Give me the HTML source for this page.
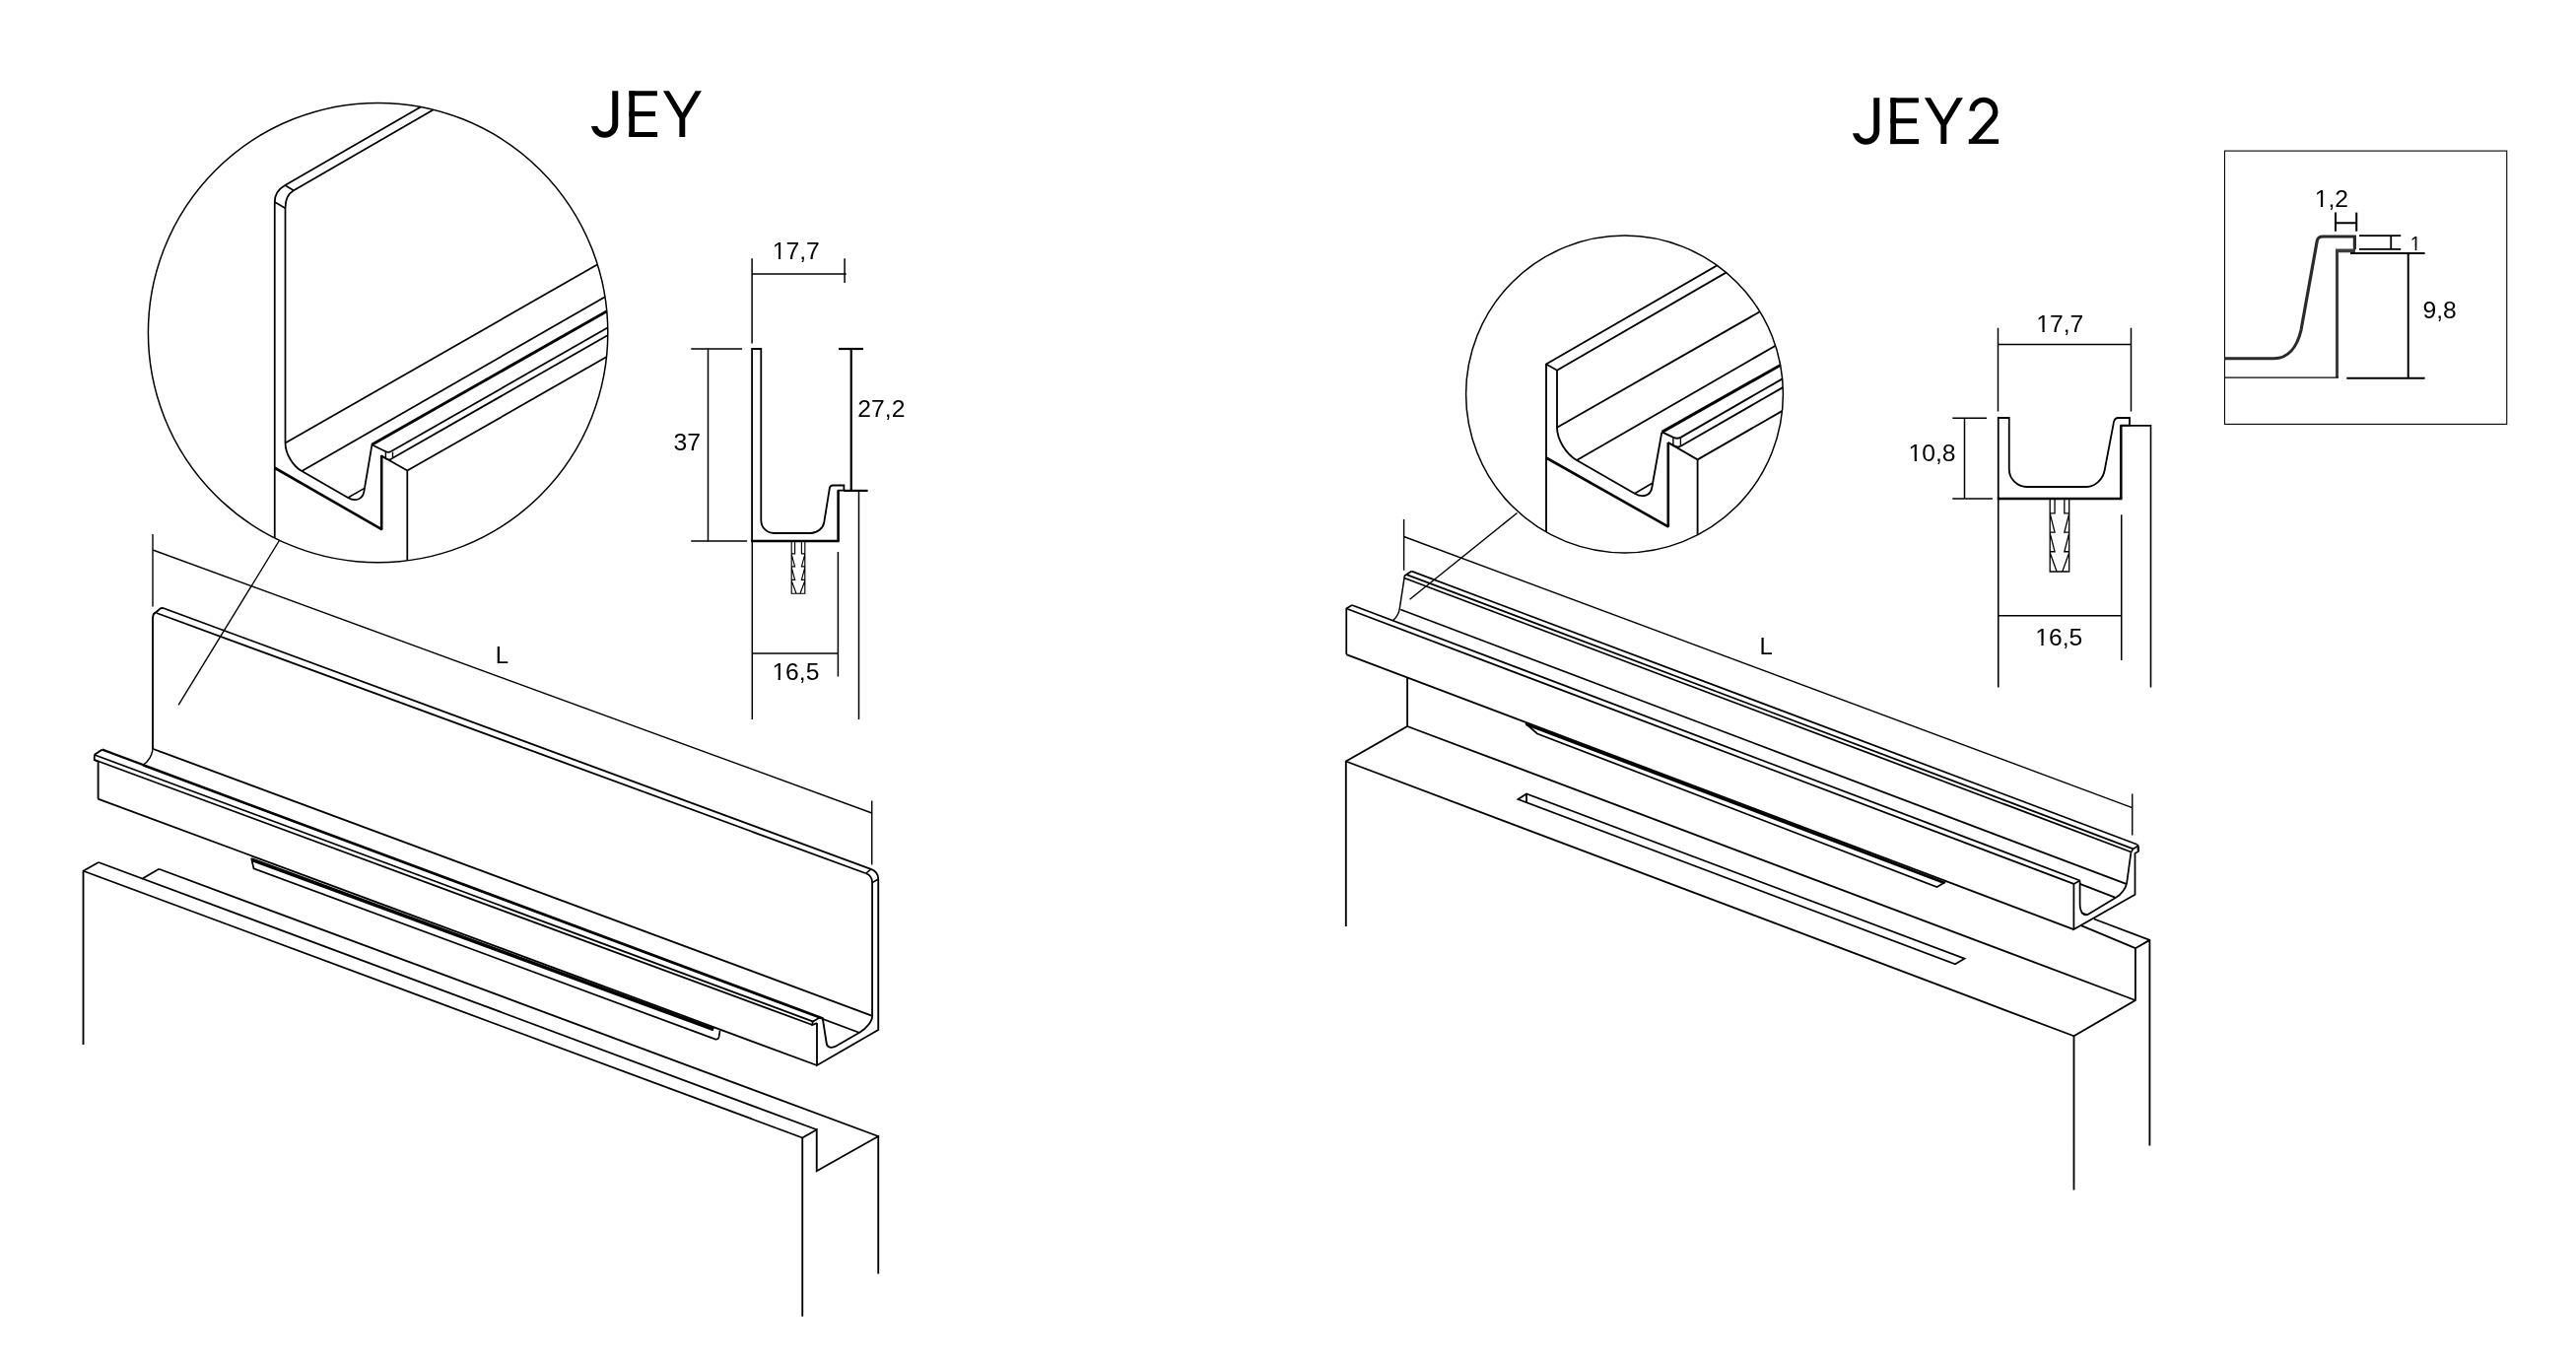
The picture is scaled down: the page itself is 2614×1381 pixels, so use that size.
<!DOCTYPE html>
<html><head><meta charset="utf-8"><title>JEY / JEY2</title>
<style>
html,body{margin:0;padding:0;background:#fff;}
body{width:2614px;height:1381px;overflow:hidden;}
svg{display:block;}
svg line, svg path, svg circle, svg polyline, svg rect{fill:none;stroke:#000;stroke-linecap:butt;stroke-linejoin:miter;}
svg text{font-family:"Liberation Sans",sans-serif;fill:#000;stroke:none;opacity:0.995;}
svg .f{fill:#000;stroke:none;}
svg .w{fill:#fff;stroke:none;}
</style></head><body>
<svg width="2614" height="1381" viewBox="0 0 2614 1381">
<defs>
<clipPath id="c1"><circle cx="383.6" cy="337.6" r="233.2"/></clipPath>
<clipPath id="c2"><circle cx="1648.5" cy="400" r="160.9"/></clipPath>
<filter id="bl" x="-5%" y="-5%" width="110%" height="110%"><feGaussianBlur stdDeviation="0.55"/></filter>
<clipPath id="cj"><rect x="590" y="128.1" width="24" height="20"/><rect x="611" y="85" width="22" height="63"/></clipPath>
</defs>
<g id="title1">
<path d="M624.25 92.25 V126 A10.65 10.65 0 0 1 602.95 126 V122" stroke-width="6" clip-path="url(#cj)"/>
<line x1="641.2" y1="92.25" x2="641.2" y2="139" stroke-width="5.6" />
<line x1="638.4" y1="94.75" x2="666.9" y2="94.75" stroke-width="5" />
<line x1="638.4" y1="115.6" x2="665" y2="115.6" stroke-width="5" />
<line x1="638.4" y1="136.5" x2="667.1" y2="136.5" stroke-width="5" />
<polygon class="f" points="672.9,92.25 679,92.25 692.5,114.4 705.6,92.25 711.9,92.25 695.25,120 695.25,139 689.4,139 689.4,120"/>
</g>
<circle cx="383.6" cy="337.6" r="233.2" stroke-width="1.5"/>
<g clip-path="url(#c1)">
<path d="M460,89.4 L289.25,188 Q278.75,194.06 278.75,205 V600" stroke-width="1.75" />
<path d="M480,88.1 L298,193.25 Q289.5,198.16 289.5,211.25 V449.4 C289.50,459.95 297.00,472.80 306.25,478.10 L353.1,505 C360.78,509.42 368.07,506.62 369.40,498.75 L377.5,451" stroke-width="1.75" />
<line x1="289.25" y1="188" x2="298" y2="193.25" stroke-width="1.5" />
<line x1="278.75" y1="205" x2="289.5" y2="211.25" stroke-width="1.5" />
<path d="M377.3,451.2 L391.0,458.0 Q394,459.8 396.9,458.0" stroke-width="1.75" />
<line x1="391.4" y1="458.4" x2="391.4" y2="464.8" stroke-width="1.4" />
<line x1="398.5" y1="458.7" x2="398.5" y2="464.6" stroke-width="1.4" />
<path d="M386.6,462.2 L392.3,465.7 Q395.5,467.4 398.5,464.8" stroke-width="1.75" />
<line x1="387.2" y1="462.0" x2="387.2" y2="537.6" stroke-width="2.6" />
<line x1="278.75" y1="474.75" x2="387.8" y2="537.4" stroke-width="2.6" />
<line x1="387" y1="462.4" x2="413.3" y2="477.6" stroke-width="1.75" />
<line x1="413.3" y1="477.6" x2="413.3" y2="600" stroke-width="1.75" />
<line x1="289.5" y1="449.4" x2="640" y2="249.21" stroke-width="1.75" />
<line x1="306.25" y1="478.1" x2="640" y2="286.23" stroke-width="1.75" />
<line x1="377.3" y1="451.2" x2="640" y2="302.06" stroke-width="3.0" />
<line x1="396.9" y1="458.0" x2="640" y2="319.15" stroke-width="1.75" />
<line x1="398.5" y1="464.8" x2="640" y2="326.9" stroke-width="1.75" />
<line x1="413.3" y1="477.6" x2="640" y2="348.23" stroke-width="1.75" />
<line x1="353.1" y1="505" x2="369.4" y2="495.6" stroke-width="1.5" />
</g>
<line x1="283.25" y1="548.75" x2="181.1" y2="715.4" stroke-width="1.4" />
<path d="M763.1,549 V354 H772.3 V528 A13,13 0 0 0 785.3,541 H822.5 C829.13,541.00 835.28,536.08 836.25,530.00 L841.9,495 Q842.6,492.5 845,492.5 H856.4 V497.6 H850.6 V549" stroke-width="1.8" />
<line x1="762.2" y1="549" x2="851.7" y2="549" stroke-width="2.4" />
<line x1="850.6" y1="497.6" x2="850.6" y2="549" stroke-width="2.3" />
<text x="783.80" y="262.75" font-size="24.7">17,7</text>
<rect class="w" x="784.81" y="260.27" width="5.19" height="3.41"/>
<rect class="w" x="792.20" y="260.27" width="5.00" height="3.41"/>
<line x1="763.1" y1="277.9" x2="858.75" y2="277.9" stroke-width="1.5" />
<line x1="763.1" y1="262.25" x2="763.1" y2="348.5" stroke-width="1.5" />
<line x1="857.1" y1="262.25" x2="857.1" y2="286.9" stroke-width="1.5" />
<line x1="718.5" y1="353.75" x2="718.5" y2="549.5" stroke-width="1.5" />
<line x1="701.25" y1="354" x2="753.1" y2="354" stroke-width="1.5" />
<line x1="701.25" y1="549" x2="758.1" y2="549" stroke-width="1.5" />
<text x="683.61" y="456.9" font-size="24.7">37</text>
<line x1="863.75" y1="353" x2="863.75" y2="497.9" stroke-width="2.2" />
<line x1="851" y1="354" x2="876" y2="354" stroke-width="2.2" />
<line x1="856.25" y1="497.9" x2="880.6" y2="497.9" stroke-width="2.2" />
<text x="870.36" y="423.1" font-size="24.7">27,2</text>
<line x1="763.3" y1="549" x2="763.3" y2="730" stroke-width="1.5" />
<line x1="871.5" y1="497.9" x2="871.5" y2="730" stroke-width="1.5" />
<line x1="763.1" y1="663.1" x2="850.6" y2="663.1" stroke-width="1.5" />
<line x1="850.4" y1="560" x2="850.4" y2="686.5" stroke-width="1.5" />
<text x="783.39" y="689.75" font-size="24.7">16,5</text>
<rect class="w" x="784.40" y="687.27" width="5.19" height="3.41"/>
<rect class="w" x="791.80" y="687.27" width="5.00" height="3.41"/>
<path d="M803.2,549 V602.25 H816.8 V549 M806.60,549 V561.9 H803.2 M813.40,549 V561.9 H816.8 M803.2,562.30 L806.60,574.85 H803.2 M816.8,562.30 L813.40,574.85 H816.8 M803.2,575.75 L806.60,588.30 H803.2 M816.8,575.75 L813.40,588.30 H816.8 M803.2,589.20 L808.03,602.25 M816.8,589.20 L811.97,602.25" stroke-width="1.15" stroke-linejoin="round"/>
<line x1="155" y1="542" x2="155" y2="615.5" stroke-width="1.4" />
<line x1="155" y1="558" x2="884.75" y2="825" stroke-width="1.4" />
<line x1="884.75" y1="812.5" x2="884.75" y2="877.5" stroke-width="1.4" />
<text x="502.74" y="672.5" font-size="24">L</text>
<path d="M883.75,881.9 Q891.25,884.7 891.25,891.9 V1045 L829,1081 V1038" stroke-width="1.85" />
<path d="M878.75,886.25 Q885.1,888.6 885.1,895.6 V1031 C885.25,1035.97 879.54,1043.36 872.50,1047.50 L848.75,1061.25 C843.86,1064.09 839.39,1062.98 838.75,1058.75 L834.75,1033 L832.5,1032.25 L825.3,1036.3 Q824.2,1037 824.4,1040 L829,1038.1" stroke-width="1.85" />
<line x1="883.75" y1="881.9" x2="878.75" y2="886.25" stroke-width="1.6" />
<line x1="890.9" y1="892.2" x2="885.1" y2="895.6" stroke-width="1.6" />
<path d="M155,760 V626.5 Q155.3,622.6 158.4,621.2 L162.3,617.7 Q164.2,616.4 166.9,617.5" stroke-width="1.85" />
<path d="M155,759 C155.00,765.32 150.52,773.05 145.00,776.25" stroke-width="1.4" />
<path d="M103.75,760.6 L96.3,765.4 Q95.5,766.1 95.8,771.1 L99.6,772.6 V810.6" stroke-width="1.85" />
<line x1="166.9" y1="617.5" x2="883.75" y2="881.9" stroke-width="1.85" />
<line x1="158.75" y1="622" x2="878.75" y2="886.25" stroke-width="1.85" />
<line x1="155.6" y1="760" x2="884.6" y2="1030.6" stroke-width="1.85" />
<line x1="145" y1="776.7" x2="872.5" y2="1048" stroke-width="1.85" />
<line x1="103.75" y1="760.6" x2="832.5" y2="1032.25" stroke-width="2.3" />
<line x1="96.0" y1="766.0" x2="825.2" y2="1036.6" stroke-width="1.85" />
<line x1="95.9" y1="771" x2="824.4" y2="1040" stroke-width="1.85" />
<line x1="99.4" y1="810.6" x2="829" y2="1081" stroke-width="1.85" />
<path d="M255,870.6 L257.5,881.25 L725.6,1054.4 Q728,1055 729.4,1053 L730.6,1045.6" stroke-width="1.7" />
<line x1="255.5" y1="872.3" x2="724.2" y2="1044.6" stroke-width="3.6" />
<path d="M84.5,1060 V883.75 L100,875" stroke-width="1.85" />
<line x1="84.5" y1="883.75" x2="814.25" y2="1154.5" stroke-width="1.85" />
<line x1="100" y1="875" x2="828.75" y2="1146.25" stroke-width="1.85" />
<line x1="145" y1="891.25" x2="161.25" y2="881.75" stroke-width="1.85" />
<line x1="161.25" y1="881.75" x2="891.25" y2="1153" stroke-width="1.85" />
<path d="M814.25,1335.75 V1154.5 L828.75,1146.25 V1188.25 L891.25,1153 V1292.5" stroke-width="1.85" />
<g id="title2" transform="translate(1280,7.1)">
<path d="M624.25 92.25 V126 A10.65 10.65 0 0 1 602.95 126 V122" stroke-width="6" clip-path="url(#cj)"/>
<line x1="641.2" y1="92.25" x2="641.2" y2="139" stroke-width="5.6" />
<line x1="638.4" y1="94.75" x2="666.9" y2="94.75" stroke-width="5" />
<line x1="638.4" y1="115.6" x2="665" y2="115.6" stroke-width="5" />
<line x1="638.4" y1="136.5" x2="667.1" y2="136.5" stroke-width="5" />
<polygon class="f" points="672.9,92.25 679,92.25 692.5,114.4 705.6,92.25 711.9,92.25 695.25,120 695.25,139 689.4,139 689.4,120"/>
</g>
<path d="M2001.1,112.6 A11.8,11.8 0 1 1 2021.73,121.04 L2001.6,143.6" stroke-width="5.4" />
<rect class="f" x="1997.75" y="141.25" width="30.35" height="4.65"/>
<circle cx="1648.5" cy="400" r="160.9" stroke-width="1.5"/>
<g clip-path="url(#c2)">
<path d="M1790,241.85 L1569,369.5 V570" stroke-width="1.85" />
<path d="M1790,254.4 L1580,375.75 V433.75 C1580.00,445.76 1588.95,460.65 1600.00,467.00 L1658.75,500.75 C1667.01,505.47 1674.84,502.90 1676.25,495.00 L1686.3,438.6" stroke-width="1.85" />
<line x1="1569" y1="369.5" x2="1580" y2="375.75" stroke-width="1.5" />
<line x1="1569" y1="464.5" x2="1693.2" y2="534.6" stroke-width="2.6" />
<line x1="1692.8" y1="449" x2="1692.8" y2="534.8" stroke-width="2.6" />
<path d="M1686.5,438.4 L1697.6,443.7 Q1701.5,445.6 1705.4,443.9" stroke-width="1.85" />
<line x1="1697.9" y1="444.1" x2="1697.9" y2="452.9" stroke-width="1.4" />
<line x1="1705.4" y1="444.3" x2="1705.4" y2="452.6" stroke-width="1.4" />
<path d="M1692.6,449 L1699.5,452.6 Q1702.5,454.4 1705.4,452.7" stroke-width="1.85" />
<line x1="1692.6" y1="449" x2="1722.6" y2="466.4" stroke-width="1.85" />
<line x1="1722.6" y1="466.4" x2="1722.6" y2="570" stroke-width="1.85" />
<line x1="1580" y1="433.75" x2="1830" y2="291.02" stroke-width="1.85" />
<line x1="1600" y1="467" x2="1830" y2="334.46" stroke-width="1.85" />
<line x1="1686.5" y1="438.4" x2="1830" y2="357.33" stroke-width="3.0" />
<line x1="1705.4" y1="443.9" x2="1830" y2="372.02" stroke-width="1.85" />
<line x1="1705.4" y1="452.7" x2="1830" y2="381.11" stroke-width="1.85" />
<line x1="1722.6" y1="466.4" x2="1830" y2="404.54" stroke-width="1.85" />
<line x1="1658.75" y1="500.75" x2="1676.25" y2="490.5" stroke-width="1.5" />
</g>
<line x1="1539.5" y1="520.5" x2="1430.5" y2="608.3" stroke-width="1.4" />
<path d="M2027.75,506 V424 H2038.75 V476 A18,18 0 0 0 2056.75,494 H2117.5 C2125.73,494.00 2133.83,486.61 2135.60,477.50 L2145,428.1 Q2145.9,424 2149.5,424 H2161 V431.6 H2152.25 V506" stroke-width="1.8" />
<line x1="2026.8" y1="506" x2="2153.5" y2="506" stroke-width="2.6" />
<line x1="2152.25" y1="431.6" x2="2152.25" y2="506" stroke-width="2.5" />
<path d="M2152.25,431.9 H2182.5 V697.5" stroke-width="1.6" />
<line x1="2027.75" y1="506" x2="2027.75" y2="697.5" stroke-width="1.6" />
<text x="2066.30" y="336.9" font-size="24.7">17,7</text>
<rect class="w" x="2067.31" y="334.42" width="5.19" height="3.41"/>
<rect class="w" x="2074.70" y="334.42" width="5.00" height="3.41"/>
<line x1="2027.5" y1="349.4" x2="2162.5" y2="349.4" stroke-width="1.5" />
<line x1="2027.5" y1="332.75" x2="2027.5" y2="417.5" stroke-width="1.5" />
<line x1="2162.5" y1="332.75" x2="2162.5" y2="417.5" stroke-width="1.5" />
<line x1="1993.5" y1="424" x2="1993.5" y2="506" stroke-width="1.5" />
<line x1="1981.25" y1="424.3" x2="2016" y2="424.3" stroke-width="1.5" />
<line x1="1981.25" y1="506" x2="2021.9" y2="506" stroke-width="1.5" />
<text x="1936.56" y="468.1" font-size="24.7">10,8</text>
<rect class="w" x="1937.57" y="465.62" width="5.19" height="3.41"/>
<rect class="w" x="1944.97" y="465.62" width="5.00" height="3.41"/>
<line x1="2027.75" y1="624.75" x2="2152.75" y2="624.75" stroke-width="1.5" />
<line x1="2152.75" y1="522.25" x2="2152.75" y2="670" stroke-width="1.5" />
<text x="2065.19" y="654.75" font-size="24.7">16,5</text>
<rect class="w" x="2066.20" y="652.27" width="5.19" height="3.41"/>
<rect class="w" x="2073.60" y="652.27" width="5.00" height="3.41"/>
<path d="M2080.2,506 V580 H2099.7 V506 M2085.07,506 V520.8 H2080.2 M2094.82,506 V520.8 H2099.7 M2080.2,521.20 L2085.07,540.03 H2080.2 M2099.7,521.20 L2094.82,540.03 H2099.7 M2080.2,540.93 L2085.07,559.77 H2080.2 M2099.7,540.93 L2094.82,559.77 H2099.7 M2080.2,560.67 L2087.12,580 M2099.7,560.67 L2092.78,580" stroke-width="1.3" stroke-linejoin="round"/>
<rect x="2257.5" y="153.1" width="286.25" height="277.3" stroke-width="1.1"/>
<path d="M2257.5,363.75 H2307.5 C2322,363.75 2331,352 2335,335 L2351.25,244.5 Q2352.2,240 2357,240 H2389.4 V253" stroke-width="3.2" style="stroke:#2b2b2b;filter:url(#bl)"/>
<path d="M2390,254.4 H2371.25 V383.1" stroke-width="3.6" style="stroke:#3c3c3c;filter:url(#bl)"/>
<line x1="2257.5" y1="383.1" x2="2373.1" y2="383.1" stroke-width="1.3" />
<line x1="2370" y1="226.25" x2="2391.25" y2="226.25" stroke-width="2" />
<line x1="2370" y1="215.6" x2="2370" y2="234.75" stroke-width="2" />
<line x1="2391.25" y1="215.6" x2="2391.25" y2="234.75" stroke-width="2" />
<text x="2348.76" y="209.75" font-size="24.7">1,2</text>
<rect class="w" x="2349.77" y="207.27" width="5.19" height="3.41"/>
<rect class="w" x="2357.17" y="207.27" width="5.00" height="3.41"/>
<line x1="2394" y1="239.1" x2="2436.25" y2="239.1" stroke-width="1.8" />
<line x1="2394" y1="252.9" x2="2436.25" y2="252.9" stroke-width="1.8" />
<line x1="2426.25" y1="239.1" x2="2426.25" y2="252.9" stroke-width="1.8" />
<text x="2445.73" y="253.75" font-size="19.6">1</text>
<rect class="w" x="2446.36" y="251.66" width="4.28" height="3.01"/>
<rect class="w" x="2452.40" y="251.66" width="4.13" height="3.01"/>
<line x1="2385" y1="256.9" x2="2460.6" y2="256.9" stroke-width="2" />
<line x1="2443.75" y1="256.9" x2="2443.75" y2="383.75" stroke-width="2" />
<line x1="2381.25" y1="383.75" x2="2460.6" y2="383.75" stroke-width="2" />
<text x="2458.44" y="323.1" font-size="24.7">9,8</text>
<line x1="1424.6" y1="527" x2="1424.6" y2="578.75" stroke-width="1.4" />
<line x1="1424.6" y1="544.5" x2="2163.75" y2="819.6" stroke-width="1.4" />
<line x1="2163.75" y1="805.6" x2="2163.75" y2="847.5" stroke-width="1.4" />
<text x="1785.49" y="663.75" font-size="24">L</text>
<path d="M2110.6,893.5 L2104.4,896.9 V943.1 L2166.5,907.7 V865.3" stroke-width="1.75" />
<path d="M2110.6,893.5 V917 C2110.60,925.73 2114.54,930.43 2119.40,927.50 L2147.5,910.6 C2152.36,907.78 2157.11,901.36 2158.10,896.25 L2162.5,864.5" stroke-width="1.75" />
<path d="M2168.4,856.8 Q2170.2,857.6 2170.1,859.6 L2170.3,862.8 Q2170,864.8 2166.5,865.5 M2164.7,861.4 L2169.2,858.5 M2164.7,861.4 L2162.6,864.6" stroke-width="1.6" />
<path d="M1425,584.4 L1432.5,579.6" stroke-width="1.75" />
<path d="M1425,584.4 V586.5 L1420.3,617.5 C1419.69,621.42 1416.76,626.75 1413.75,629.40" stroke-width="1.5" />
<path d="M1371.9,614 L1366.25,617.5 V664.1" stroke-width="1.75" />
<line x1="1432.5" y1="579.6" x2="2168.4" y2="856.8" stroke-width="1.75" />
<line x1="1427.5" y1="583.1" x2="2164.7" y2="861.4" stroke-width="1.75" />
<line x1="1425" y1="586.5" x2="2162.5" y2="864.5" stroke-width="1.75" />
<line x1="1421.25" y1="618.5" x2="2157.5" y2="896.9" stroke-width="1.75" />
<line x1="1371.9" y1="614" x2="2110.6" y2="893.5" stroke-width="1.75" />
<line x1="1366.25" y1="617.5" x2="2104.4" y2="896.9" stroke-width="1.75" />
<line x1="1366.25" y1="664.1" x2="2104.4" y2="943.1" stroke-width="1.75" />
<line x1="2110.6" y1="896.9" x2="2146.25" y2="910.6" stroke-width="1.75" />
<line x1="2169.5" y1="859.6" x2="2169.7" y2="863.4" stroke-width="2.0" />
<line x1="2111.9" y1="926.25" x2="2118.75" y2="928.1" stroke-width="1.4" />
<path d="M1548,734 L1560,744.5 L1965.5,900 L1974,895" stroke-width="1.7" />
<line x1="1549" y1="735.0" x2="1973.5" y2="896.0" stroke-width="2.8" />
<path d="M1428.1,687.5 V737 L1365.8,772.5 V940" stroke-width="1.85" />
<line x1="1365.8" y1="772.5" x2="2104.5" y2="1051.25" stroke-width="1.85" />
<line x1="1428.1" y1="737" x2="2166.9" y2="1015" stroke-width="1.85" />
<path d="M2125,932.5 L2181.4,953.9 V1162.5 M2181.4,953.9 L2166.9,962.2 M2111.25,938.9 L2166.9,962.2 V1015 L2104.5,1051.25 V1207.5" stroke-width="1.85" />
<path d="M1540.5,811 L1549,805.5 L1993.5,972.7 L1984,978.3 Z M1549,805.5 V814" stroke-width="1.75" />
</svg>
</body></html>
